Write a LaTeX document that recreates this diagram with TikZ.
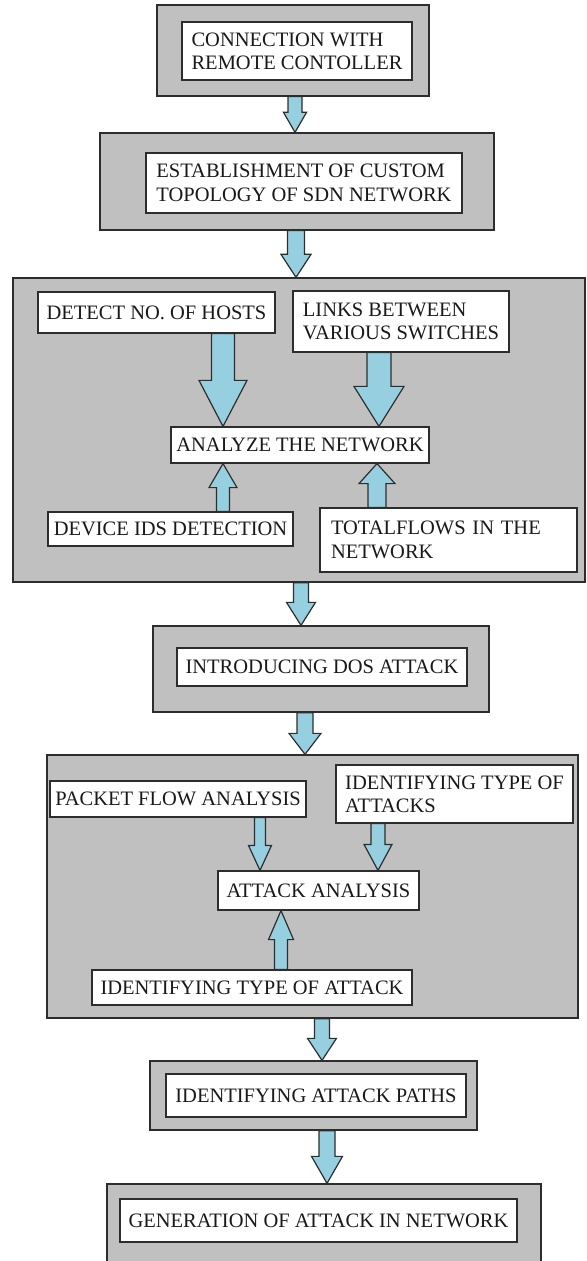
\documentclass[tikz,border=0pt]{standalone}
\usepackage{fontspec}
\setmainfont{Liberation Serif}
\usepackage{xcolor}
\usepackage{tikz}
\usetikzlibrary{calc}
\definecolor{boxgray}{RGB}{192,192,192}
\definecolor{arrowblue}{RGB}{150,207,224}
\definecolor{edgegray}{RGB}{45,45,45}

% block arrow: x, from anchor, to anchor, half shaft, half head, head length (negative = upwards)
\newcommand{\fatarrow}[6]{%
	\path (#2 -| #1,0) coordinate (fa-s)
		(#3 -| #1,0) coordinate (fa-t)
		(fa-t) ++(0,{-(#6)}) coordinate (fa-h);
	\draw[fatarr] ($(fa-s)+(-#4,0)$) -- ($(fa-h)+(-#4,0)$) -- ($(fa-h)+(-#5,0)$) -- (fa-t)
		-- ($(fa-h)+(#5,0)$) -- ($(fa-h)+(#4,0)$) -- ($(fa-s)+(#4,0)$) -- cycle;}

\begin{document}
\begin{tikzpicture}[x=0.5pt,y=-0.5pt,
	outer/.style={draw=edgegray,line width=0.65pt,fill=boxgray,inner sep=0pt},
	inner/.style={draw=edgegray,line width=0.6pt,fill=white,inner sep=0pt,align=left,text=black!90,font=\fontsize{10.25}{11.65}\selectfont},
	fatarr/.style={draw=edgegray,line width=0.6pt,fill=arrowblue,line join=miter}]
		\useasboundingbox (0,0) rectangle (586,1261);
		% grey frames
		\node[outer,minimum width=136pt,minimum height=45.5pt] (o1) at (293,50.5) {};
		\node[outer,minimum width=197pt,minimum height=48.5pt] (o2) at (297,181.5) {};
		\node[outer,minimum width=286pt,minimum height=152pt] (o3) at (299,430) {};
		\node[outer,minimum width=168pt,minimum height=43pt] (o4) at (321,669) {};
		\node[outer,minimum width=265.5pt,minimum height=131.5pt] (o5) at (312.5,886.5) {};
		\node[outer,minimum width=163.5pt,minimum height=34.5pt] (o6) at (313.5,1095.5) {};
		\node[outer,minimum width=217pt,minimum height=39pt] (o7) at (324,1223) {};
		% steps
		\node[inner,minimum width=115pt,minimum height=29pt] (conn) at (297,51) {CONNECTION WITH\\REMOTE CONTOLLER};
		\node[inner,minimum width=158pt,minimum height=30pt] (topo) at (304,183) {ESTABLISHMENT OF CUSTOM\\TOPOLOGY OF SDN NETWORK};
		\node[inner,minimum width=118.5pt,minimum height=20.5pt] (hosts) at (156.5,312.5) {DETECT NO. OF HOSTS};
		\node[inner,minimum width=108pt,minimum height=30.5pt] (links) at (401,321.5) {LINKS BETWEEN\\VARIOUS SWITCHES};
		\node[inner,minimum width=129pt,minimum height=18pt] (an) at (300,445) {ANALYZE THE NETWORK};
		\node[inner,minimum width=122.5pt,minimum height=17pt] (dev) at (170.5,529) {DEVICE IDS DETECTION};
		\node[inner,text width=117.5pt,inner xsep=5.5pt,minimum height=32pt] (tf) at (448.5,540) {TOTALFLOWS IN THE\\NETWORK};
		\node[inner,minimum width=145pt,minimum height=19pt] (dos) at (322,667) {INTRODUCING DOS ATTACK};
		\node[inner,minimum width=128pt,minimum height=18pt] (pkt) at (178,799) {PACKET FLOW ANALYSIS};
		\node[inner,minimum width=118.5pt,minimum height=29pt] (types) at (454.5,794) {IDENTIFYING TYPE OF\\ATTACKS};
		\node[inner,minimum width=100.5pt,minimum height=19.5pt] (aa) at (318.5,890.5) {ATTACK ANALYSIS};
		\node[inner,minimum width=160pt,minimum height=17.5pt] (ita) at (252,987.5) {IDENTIFYING TYPE OF ATTACK};
		\node[inner,minimum width=150pt,minimum height=21.5pt] (paths) at (316,1095.5) {IDENTIFYING ATTACK PATHS};
		\node[inner,minimum width=198.5pt,minimum height=21.5pt] (gen) at (318.5,1220.5) {GENERATION OF ATTACK IN NETWORK};
		% arrows
		\fatarrow{295}{o1.south}{o2.north}{7}{11.5}{20}
		\fatarrow{296}{o2.south}{o3.north}{8.5}{15}{23}
		\fatarrow{223}{hosts.south}{an.north}{11.5}{24}{46}
		\fatarrow{379}{links.south}{an.north}{12}{25}{40}
		\fatarrow{223}{dev.north}{an.south}{6.5}{14}{-24}
		\fatarrow{377}{tf.north}{an.south}{9}{18}{-20}
		\fatarrow{301}{o3.south}{o4.north}{7.5}{14.5}{23}
		\fatarrow{305}{o4.south}{o5.north}{8}{16}{21}
		\fatarrow{260}{pkt.south}{aa.north}{5.5}{11.5}{25}
		\fatarrow{378}{types.south}{aa.north}{7}{14}{26}
		\fatarrow{281}{ita.north}{aa.south}{6.5}{12.5}{-29}
		\fatarrow{322}{o5.south}{o6.north}{7.5}{14.5}{22}
		\fatarrow{327}{o6.south}{o7.north}{8}{15.5}{27}
	\end{tikzpicture}
\end{document}
